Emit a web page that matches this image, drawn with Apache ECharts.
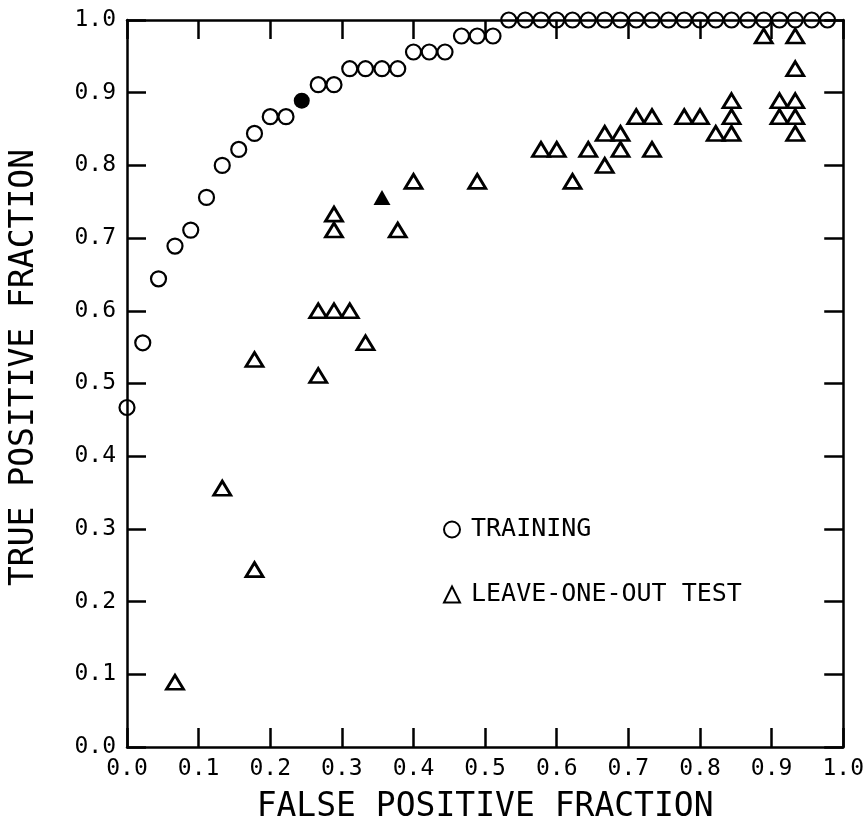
<!DOCTYPE html>
<html>
<head>
<meta charset="utf-8">
<script src="https://cdn.jsdelivr.net/npm/echarts@6/dist/echarts.min.js"></script>
<style>
    html, body { margin: 0; padding: 0; background: #fff; }
    #chart { width: 867px; height: 831px; }
</style>
</head>
<body>
<div id="chart"></div>
<script>
// ROC points (FPF, TPF)
var trainingPoints = [
    [0.000, 0.467], [0.022, 0.556], [0.044, 0.644], [0.067, 0.689], [0.089, 0.711],
    [0.111, 0.756], [0.133, 0.800], [0.156, 0.822], [0.178, 0.844], [0.200, 0.867],
    [0.222, 0.867], [0.267, 0.911], [0.289, 0.911], [0.311, 0.933], [0.333, 0.933],
    [0.356, 0.933], [0.378, 0.933], [0.400, 0.956], [0.422, 0.956], [0.444, 0.956],
    [0.467, 0.978], [0.489, 0.978], [0.511, 0.978],
    [0.533, 1.000], [0.556, 1.000], [0.578, 1.000], [0.600, 1.000], [0.622, 1.000],
    [0.644, 1.000], [0.667, 1.000], [0.689, 1.000], [0.711, 1.000], [0.733, 1.000],
    [0.756, 1.000], [0.778, 1.000], [0.800, 1.000], [0.822, 1.000], [0.844, 1.000],
    [0.867, 1.000], [0.889, 1.000], [0.911, 1.000], [0.933, 1.000], [0.956, 1.000],
    [0.978, 1.000]
];
var trainingOperating = [[0.244, 0.889]];

var testPoints = [
    [0.067, 0.089], [0.133, 0.356], [0.178, 0.244], [0.178, 0.533], [0.267, 0.511],
    [0.267, 0.600], [0.289, 0.600], [0.311, 0.600], [0.333, 0.556], [0.289, 0.711],
    [0.289, 0.733], [0.378, 0.711], [0.400, 0.778], [0.489, 0.778], [0.578, 0.822],
    [0.600, 0.822], [0.622, 0.778], [0.644, 0.822], [0.667, 0.800], [0.667, 0.844],
    [0.689, 0.844], [0.689, 0.822], [0.711, 0.867], [0.733, 0.867], [0.733, 0.822],
    [0.778, 0.867], [0.800, 0.867], [0.822, 0.844], [0.844, 0.844], [0.844, 0.867],
    [0.844, 0.889], [0.889, 0.978], [0.911, 0.889], [0.911, 0.867], [0.933, 0.978],
    [0.933, 0.933], [0.933, 0.889], [0.933, 0.867], [0.933, 0.844]
];
var testOperating = [[0.356, 0.756]];

var seriesNames = ['TRAINING', 'LEAVE-ONE-OUT TEST'];
var axisTitles = ['FALSE POSITIVE FRACTION', 'TRUE POSITIVE FRACTION'];

var FONT = 'DejaVu Sans Mono';

// 坐标轴样式（四边都画刻度，朝内）
function makeAxis(pos, showLabel, name) {
    var ax = {
        type: 'value',
        position: pos,
        min: 0,
        max: 1,
        interval: 0.1,
        axisLine: { show: true, onZero: false, lineStyle: { color: '#000', width: 2.5 } },
        axisTick: { show: true, inside: true, length: 19, lineStyle: { color: '#000', width: 2.5 } },
        splitLine: { show: false },
        axisLabel: {
            show: showLabel,
            color: '#000',
            fontFamily: FONT,
            fontSize: 23,
            margin: 11,
            formatter: function (v) { return v.toFixed(1); }
        }
    };
    if (name) {
        ax.name = name;
        ax.nameLocation = 'middle';
        ax.nameTextStyle = { color: '#000', fontFamily: FONT, fontSize: 33 };
    }
    return ax;
}

var xBottom = makeAxis('bottom', true, axisTitles[0]);
xBottom.nameGap = 44;
var yLeft = makeAxis('left', true, axisTitles[1]);
yLeft.nameGap = 86;
yLeft.nameTextStyle.padding = [0, 0, 0, 32];

var myChart = echarts.init(document.getElementById('chart'), null, { renderer: 'canvas' });

var option = {
    backgroundColor: '#fff',
    animation: false,
    grid: { left: 127, right: 20, top: 20, bottom: 84, containLabel: false },
    legend: {
        data: seriesNames,
        orient: 'vertical',
        left: 438,
        top: 512,
        itemWidth: 16,
        itemHeight: 16,
        itemGap: 40,
        textStyle: { color: '#000', fontFamily: FONT, fontSize: 25, padding: [0, 0, 0, 6] }
    },
    xAxis: [xBottom, makeAxis('top', false)],
    yAxis: [yLeft, makeAxis('right', false)],
    series: [
        {
            name: seriesNames[0],
            type: 'scatter',
            symbol: 'circle',
            symbolSize: 15,
            itemStyle: { color: 'rgba(255,255,255,0)', borderColor: '#000', borderWidth: 2.2, opacity: 1 },
            data: trainingPoints,
            z: 3
        },
        {
            name: seriesNames[1],
            type: 'scatter',
            symbol: 'triangle',
            symbolSize: [17, 14],
            itemStyle: { color: 'rgba(255,255,255,0)', borderColor: '#000', borderWidth: 2.8, opacity: 1 },
            data: testPoints,
            z: 3
        },
        {
            name: 'training-op',
            type: 'scatter',
            symbol: 'circle',
            symbolSize: 16,
            itemStyle: { color: '#000', opacity: 1 },
            data: trainingOperating,
            z: 3
        },
        {
            name: 'test-op',
            type: 'scatter',
            symbol: 'triangle',
            symbolSize: [17, 15],
            itemStyle: { color: '#000', opacity: 1 },
            data: testOperating,
            z: 3
        }
    ]
};

myChart.setOption(option);
</script>
</body>
</html>
